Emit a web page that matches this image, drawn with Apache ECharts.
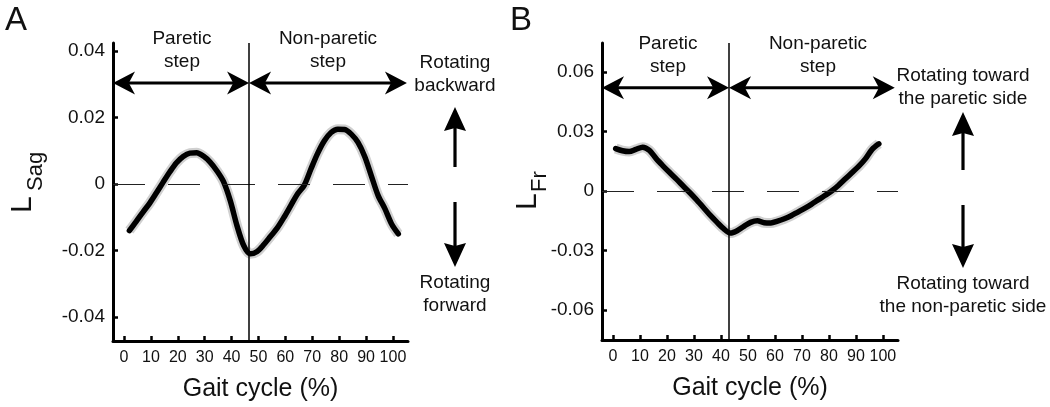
<!DOCTYPE html>
<html><head><meta charset="utf-8">
<script src="https://cdn.jsdelivr.net/npm/echarts@6/dist/echarts.min.js"></script>
<style>html,body{margin:0;padding:0;background:#fff}#c{width:1050px;height:407px}</style>
</head><body><div id="c"></div>
<script>
// ---- data ----
const gaitA = [2, 4.5, 7, 9.5, 12, 14.5, 17, 19.5, 22, 24.5, 27, 29.5, 32, 34.5, 37, 39.5, 42, 44.5, 47, 49.5, 52, 54.5, 57, 59.5, 62, 64.5, 67, 69.5, 72, 74.5, 77, 79.5, 82, 84.5, 87, 89.5, 92, 94.5, 97, 99.5, 102];
const lSag = [-0.0140, -0.0113, -0.0085, -0.0058, -0.0027, 0.0005, 0.0036, 0.0064, 0.0083, 0.0093, 0.0094, 0.0084, 0.0066, 0.0040, 0.0007, -0.0050, -0.0125, -0.0185, -0.0210, -0.0203, -0.0182, -0.0157, -0.0132, -0.0100, -0.0065, -0.0030, -0.0004, 0.0045, 0.0092, 0.0130, 0.0155, 0.0165, 0.0164, 0.0150, 0.0125, 0.0083, 0.0024, -0.0035, -0.0074, -0.0120, -0.0150];
const gaitB = [1, 3.5, 6, 8.5, 11, 13.5, 16, 18.5, 21, 23.5, 26, 28.5, 31, 33.5, 36, 38.5, 41, 43.5, 46, 48.5, 51, 53.5, 56, 58.5, 61, 63.5, 66, 68.5, 71, 73.5, 76, 78.5, 81, 83.5, 86, 88.5, 91, 93.5, 96, 98.5];
const lFr = [0.0214, 0.0203, 0.0199, 0.0210, 0.0221, 0.0205, 0.0163, 0.0127, 0.0093, 0.0060, 0.0025, -0.0009, -0.0045, -0.0083, -0.0122, -0.0157, -0.0190, -0.0212, -0.0200, -0.0178, -0.0158, -0.0150, -0.0160, -0.0161, -0.0152, -0.0140, -0.0125, -0.0106, -0.0087, -0.0067, -0.0045, -0.0023, 0.0000, 0.0028, 0.0060, 0.0092, 0.0124, 0.0162, 0.0210, 0.0238];
const xTicks = [0, 10, 20, 30, 40, 50, 60, 70, 80, 90, 100];
const yTicksA = [-0.04, -0.02, 0, 0.02, 0.04];
const yTicksB = [-0.06, -0.03, 0, 0.03, 0.06];
const boundaryA = 46.5;   // end of paretic step (%)
const boundaryB = 43;
const arrowRowA = { y: 0.0304, end: 105.2 };
const arrowRowB = { y: 0.052, end: 104.4 };
const xLabel = 'Gait cycle (%)';

const FONT = '"Liberation Sans", Arial, sans-serif';
const TXT = '#111';

function mkX(gi, min, max) {
  return {
    type: 'value', gridIndex: gi, min: min, max: max,
    name: xLabel, nameLocation: 'middle', nameGap: 36,
    nameTextStyle: { fontSize: 25, color: TXT, fontFamily: FONT },
    axisLine: { onZero: false, lineStyle: { color: '#000', width: 3 } },
    axisTick: { inside: true, length: 5, lineStyle: { color: '#000', width: 2.5 }, customValues: xTicks },
    axisLabel: { fontSize: 16, color: TXT, margin: 9, fontFamily: FONT, customValues: xTicks },
    splitLine: { show: false }
  };
}
function mkY(gi, min, max, ticks) {
  return {
    type: 'value', gridIndex: gi, min: min, max: max,
    axisLine: { onZero: false, lineStyle: { color: '#000', width: 3 } },
    axisTick: { inside: true, length: 5, lineStyle: { color: '#000', width: 2.5 }, customValues: ticks },
    axisLabel: { fontSize: 19, color: TXT, margin: 8, fontFamily: FONT, customValues: ticks,
      formatter: v => String(+(+v).toFixed(3)) },
    splitLine: { show: false }
  };
}
function refLines(boundary) {
  return {
    silent: true, symbol: ['none', 'none'], label: { show: false }, animation: false,
    emphasis: { disabled: true },
    data: [
      { yAxis: 0, lineStyle: { type: [32, 23], width: 1.2, color: '#222' } },
      { xAxis: boundary, lineStyle: { type: 'solid', width: 1.5, color: '#000' } }
    ]
  };
}
function curve(gi, xs, ys, band, boundary) {
  const data = xs.map((x, i) => [x, ys[i]]);
  return band ? {
    type: 'line', xAxisIndex: gi, yAxisIndex: gi, data: data, symbol: 'none', smooth: 0.3,
    lineStyle: { width: 10, color: '#d0d0d0', join: 'round' }, z: 2, animation: false, silent: true,
    markLine: refLines(boundary)
  } : {
    type: 'line', xAxisIndex: gi, yAxisIndex: gi, data: data, symbol: 'none', smooth: 0.3,
    lineStyle: { width: 5.5, color: '#000', cap: 'round', join: 'round' }, z: 3, animation: false, silent: true
  };
}

const chart = echarts.init(document.getElementById('c'), null, { renderer: 'canvas' });
chart.setOption({
  backgroundColor: '#fff',
  animation: false,
  textStyle: { fontFamily: FONT },
  grid: [
    { left: 113, top: 43, width: 295, height: 298 },
    { left: 602, top: 43, width: 296, height: 297 }
  ],
  xAxis: [mkX(0, -4.1, 105.6), mkX(1, -4.07, 105.6)],
  yAxis: [mkY(0, -0.0472, 0.0424, yTicksA), mkY(1, -0.0751, 0.0746, yTicksB)],
  series: [
    curve(0, gaitA, lSag, true, boundaryA),
    curve(0, gaitA, lSag, false),
    curve(1, gaitB, lFr, true, boundaryB),
    curve(1, gaitB, lFr, false)
  ]
});

// ---- annotations ----
const HL = 22, HW = 23;
function head(tx, ty, dx, dy) {
  const px = -dy, py = dx;
  return { type: 'polygon', silent: true, shape: { points: [
    [tx, ty],
    [tx + dx * HL + px * HW / 2, ty + dy * HL + py * HW / 2],
    [tx + dx * HL * 0.72, ty + dy * HL * 0.72],
    [tx + dx * HL - px * HW / 2, ty + dy * HL - py * HW / 2]
  ] }, style: { fill: '#000' } };
}
function hArrow(x1, x2, y) {
  return [
    { type: 'line', silent: true, shape: { x1: x1 + 10, y1: y, x2: x2 - 10, y2: y }, style: { stroke: '#000', lineWidth: 3 } },
    head(x1, y, 1, 0), head(x2, y, -1, 0)
  ];
}
function vHead(x, tip, dir) {
  const b = tip - dir * 24;
  return { type: 'polygon', silent: true, shape: { points: [[x, tip], [x - 11, b], [x, b + dir * 3], [x + 11, b]] }, style: { fill: '#000' } };
}
function vArrow(x, tip, tail) {
  const dir = tip < tail ? -1 : 1;
  return [
    { type: 'line', silent: true, shape: { x1: x, y1: tail, x2: x, y2: tip - dir * 18 }, style: { stroke: '#000', lineWidth: 3.2 } },
    vHead(x, tip, dir)
  ];
}
function txt(x, y, text, size) {
  return { type: 'text', silent: true, x: x, y: y, style: {
    text: text, fontSize: size, fontFamily: FONT, fill: TXT, align: 'center', verticalAlign: 'middle', lineHeight: Math.round(size * 1.2)
  } };
}
function yName(gx, gy, main, sub, mainBase, subBase, subStart) {
  return { type: 'group', x: gx, y: gy, rotation: Math.PI / 2, silent: true, children: [
    { type: 'text', x: 0, y: mainBase - 0.347 * 30, style: { text: main, fontSize: 30, fontFamily: FONT, fill: TXT, align: 'left', verticalAlign: 'middle' } },
    { type: 'text', x: subStart, y: subBase - 0.347 * 22, style: { text: sub, fontSize: 22, fontFamily: FONT, fill: TXT, align: 'left', verticalAlign: 'middle' } }
  ] };
}

const pA = v => chart.convertToPixel({ gridIndex: 0 }, v);
const pB = v => chart.convertToPixel({ gridIndex: 1 }, v);
const a0 = pA([-4.1, arrowRowA.y]), a1 = pA([boundaryA, arrowRowA.y]), a2 = pA([arrowRowA.end, arrowRowA.y]);
const b0 = pB([-4.07, arrowRowB.y]), b1 = pB([boundaryB, arrowRowB.y]), b2 = pB([arrowRowB.end, arrowRowB.y]);

let g = [];
g = g.concat(hArrow(a0[0], a1[0], a0[1]), hArrow(a1[0], a2[0], a0[1]));
g = g.concat(hArrow(b0[0], b1[0], b0[1]), hArrow(b1[0], b2[0], b0[1]));
g = g.concat(vArrow(455, 107, 167), vArrow(455, 267, 202));
g = g.concat(vArrow(963, 112, 170), vArrow(963, 268, 205));
g.push(
  txt(16, 21, 'A', 33),
  txt(521, 21, 'B', 33),
  txt(182, 50, 'Paretic\nstep', 19),
  txt(328, 50, 'Non-paretic\nstep', 19),
  txt(668, 55.5, 'Paretic\nstep', 19),
  txt(818, 55.5, 'Non-paretic\nstep', 19),
  txt(455, 74.5, 'Rotating\nbackward', 19),
  txt(455, 294.5, 'Rotating\nforward', 19),
  txt(963, 87, 'Rotating toward\nthe paretic side', 19),
  txt(963, 295, 'Rotating toward\nthe non-paretic side', 19),
  yName(0, 213, 'L', 'Sag', 33, 44, 22),
  yName(0, 210, 'L', 'Fr', 538, 548, 18)
);
chart.setOption({ graphic: g });
</script></body></html>
